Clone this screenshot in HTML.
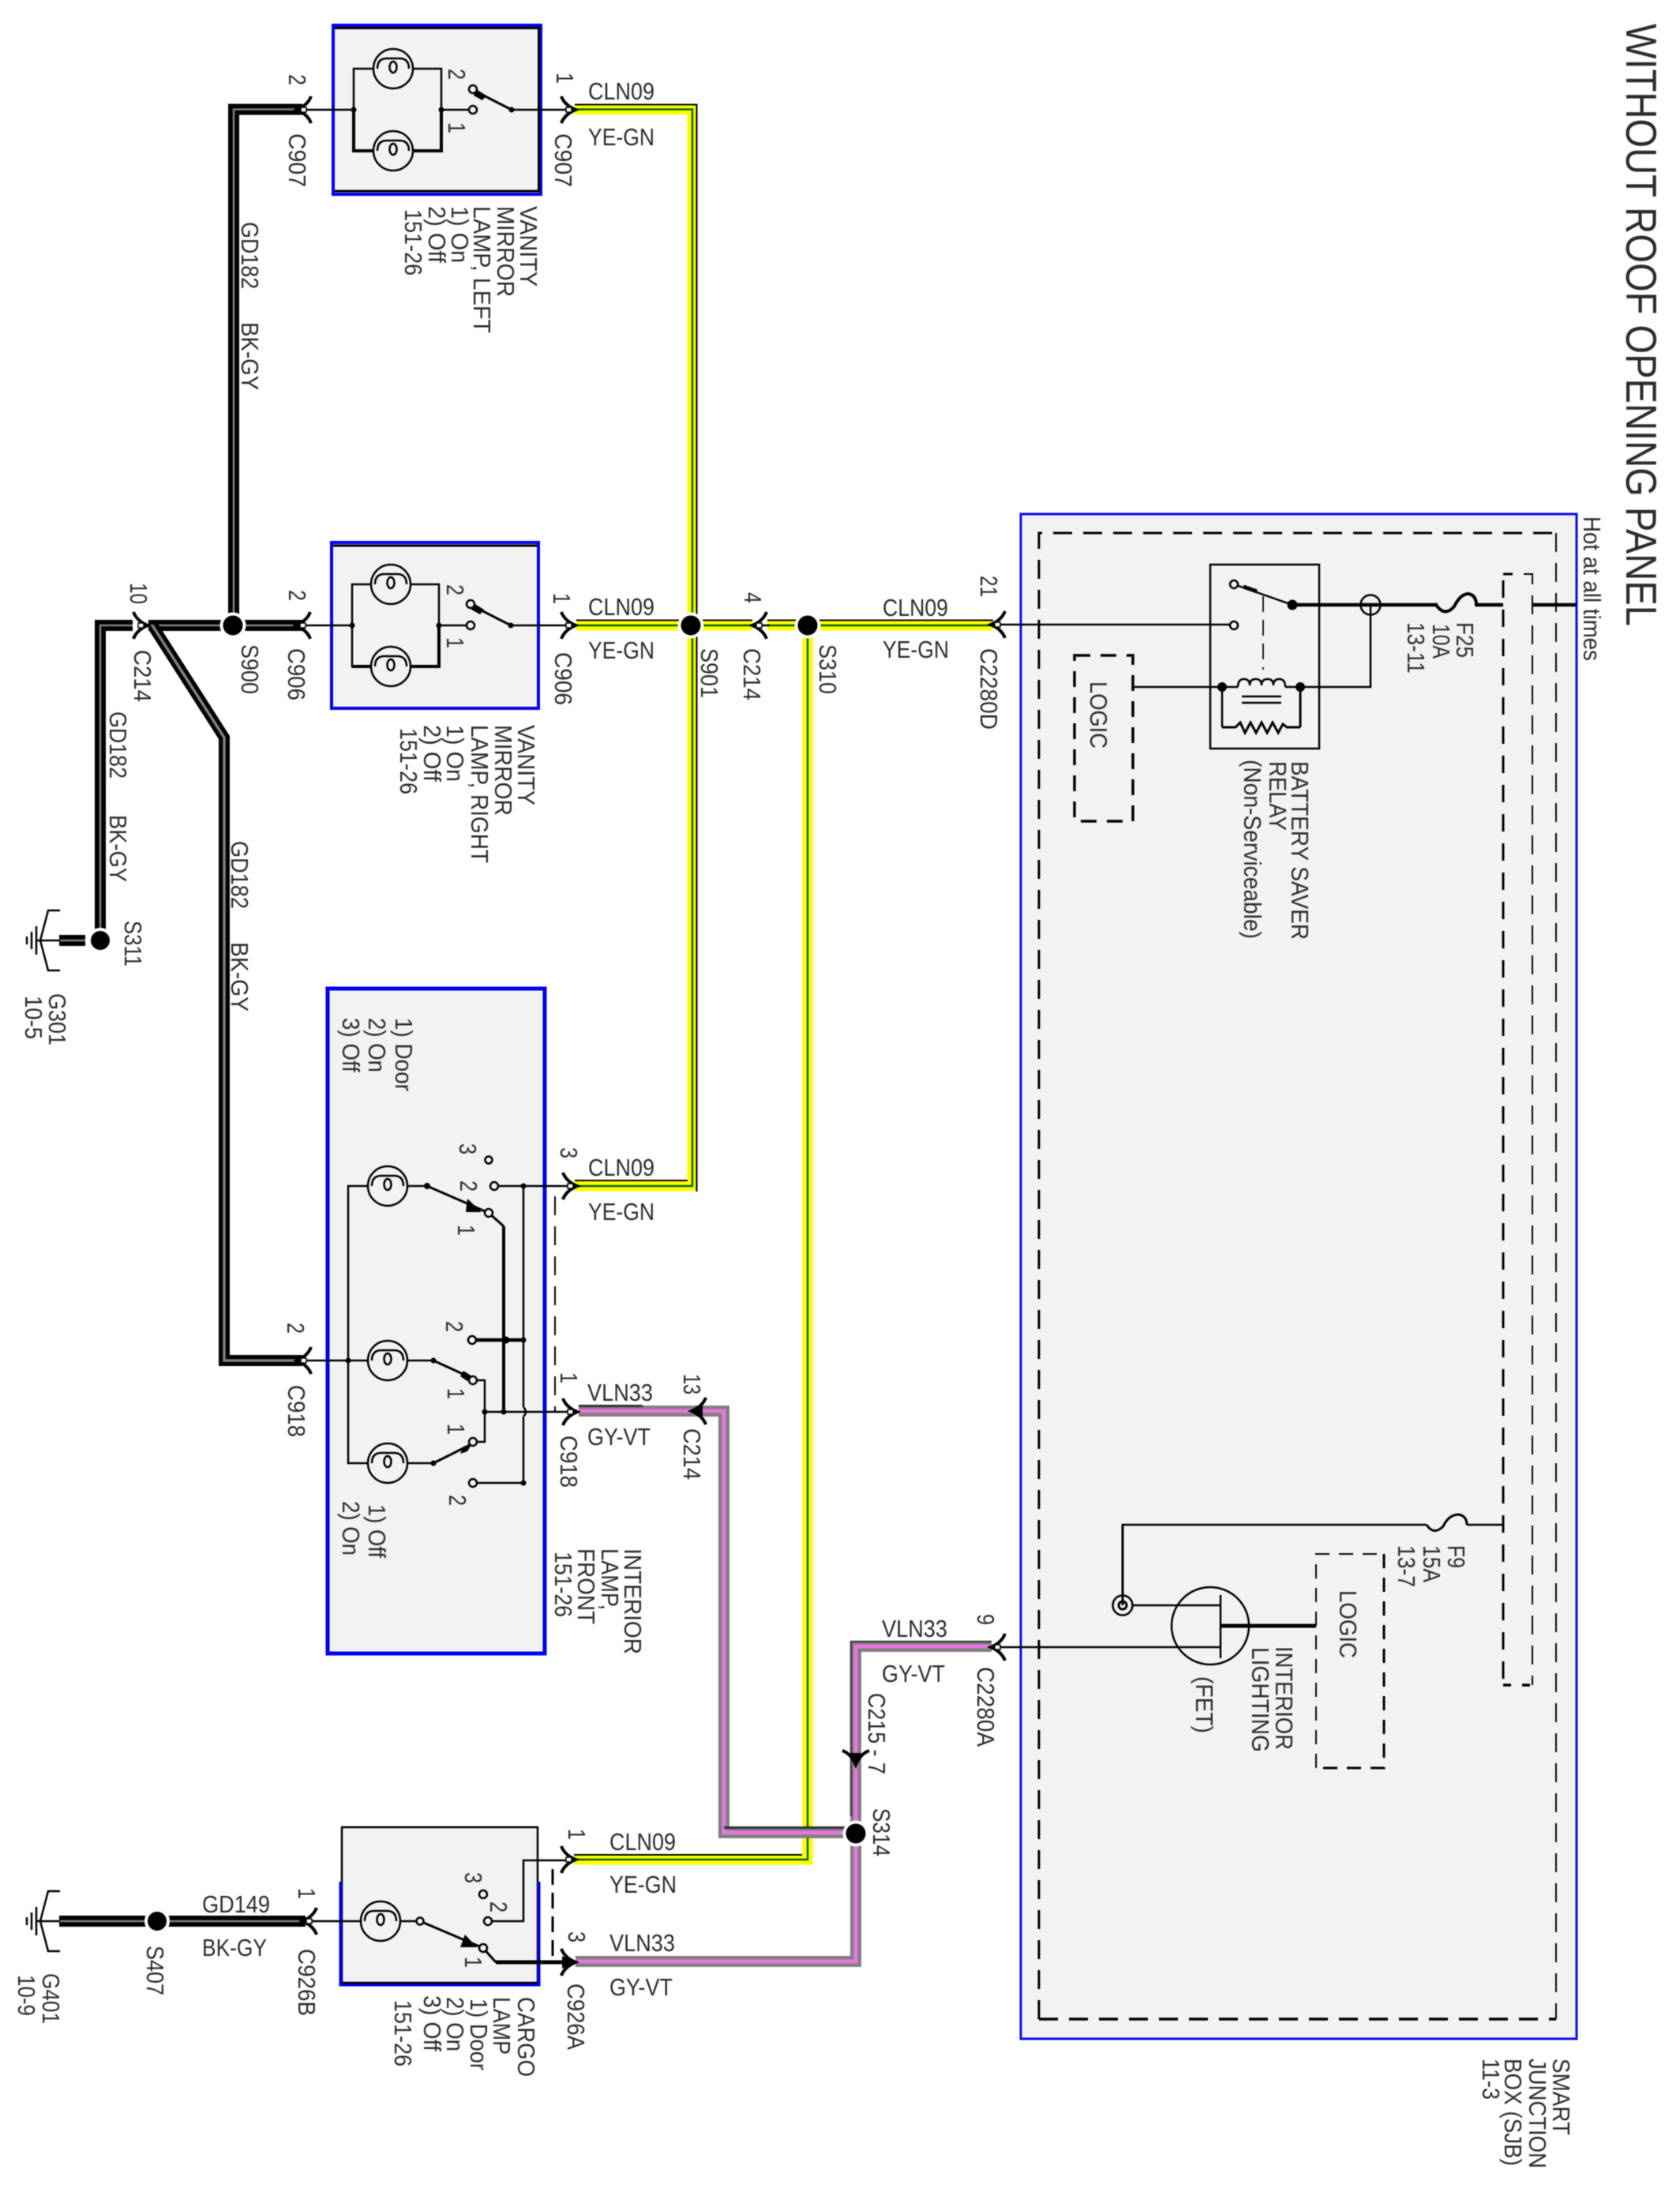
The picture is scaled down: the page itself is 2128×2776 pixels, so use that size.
<!DOCTYPE html>
<html><head><meta charset="utf-8"><title>Wiring diagram</title>
<style>
html,body{margin:0;padding:0;background:#fff;width:2128px;height:2776px;overflow:hidden}
svg{display:block;filter:blur(.6px)}
text{font-family:"Liberation Sans",sans-serif;font-size:31px;fill:#2c2c2c}
.w{fill:none;stroke:#000;stroke-width:2.5}
.m{fill:none;stroke:#000;stroke-width:4}
.n{fill:#f2f2f2;stroke:#000;stroke-width:2.5}
.d{fill:#000;stroke:none}
.y{fill:none;stroke:#ffff00;stroke-width:13}
.g{fill:none;stroke:#006400;stroke-width:2.5}
.k{fill:none;stroke:#000;stroke-width:2}
.gy{fill:none;stroke:#808080;stroke-width:14}
.pk{fill:none;stroke:#e676e0;stroke-width:5}
.bk{fill:none;stroke:#000;stroke-width:14}
.cg{fill:none;stroke:#808080;stroke-width:2.5}
.da{fill:none;stroke:#000;stroke-width:3;stroke-dasharray:24 14}
.dt{fill:none;stroke:#000;stroke-width:2;stroke-dasharray:24 14}
</style></head><body>
<svg xmlns="http://www.w3.org/2000/svg" width="2128" height="2776" viewBox="0 0 2128 2776">
<defs>
<g id="cr"><path d="M-9,-17Q-5,-6 9,0Q-5,6 -9,17" fill="none" stroke="#000" stroke-width="4"/><rect x="-3" y="-3" width="7" height="6" fill="#fff" stroke="#000" stroke-width="1.5"/></g>
<g id="cl"><path d="M9,-17Q5,-6 -9,0Q5,6 9,17" fill="none" stroke="#000" stroke-width="4"/><rect x="-4" y="-3" width="7" height="6" fill="#fff" stroke="#000" stroke-width="1.5"/></g>
<g id="lamp"><circle r="25" fill="#f2f2f2" stroke="#000" stroke-width="2.5"/><path d="M-20,0Q-20,-13 -8,-13L8,-13Q20,-13 20,0" fill="none" stroke="#000" stroke-width="2.5"/><ellipse cx="0" cy="-2" rx="4.5" ry="7" fill="none" stroke="#000" stroke-width="2.5"/></g>
<g id="gnd"><path d="M26,-38H11L1,0L11,38H26" fill="none" stroke="#000" stroke-width="2.5"/><path d="M26,0H-4M-4,-18V18M-10,-11V11M-16,-5V5" fill="none" stroke="#000" stroke-width="2.5"/></g>
</defs>

<!-- component boxes -->
<rect x="422" y="32" width="263" height="214" fill="#f2f2f2" stroke="#0000ee" stroke-width="4"/>
<path d="M424,35.500H682.500V242H424" fill="none" stroke="#000" stroke-width="3"/>
<rect x="420" y="687" width="262" height="210" fill="#f2f2f2" stroke="#0000ee" stroke-width="4"/>
<path d="M422,691H680" fill="none" stroke="#000" stroke-width="3"/>
<rect x="415" y="1252" width="275" height="842" fill="#f2f2f2" stroke="#0000ee" stroke-width="5"/>
<rect x="433" y="2314" width="248" height="198" fill="#f2f2f2" stroke="#000" stroke-width="2.500"/>
<path d="M431.500,2383V2513.500H682.500V2383" fill="none" stroke="#0000ee" stroke-width="4"/>
<path d="M433,2511H680" fill="none" stroke="#000" stroke-width="2.500"/>
<rect x="1293" y="651" width="704" height="1931" fill="#f2f2f2" stroke="#0a0af0" stroke-width="3"/>

<!-- yellow wires -->
<path class="y" d="M728,138.500H877V1502H728"/>
<path class="g" d="M728,138.500H877V1502H728"/>
<path class="k" d="M728,132.500H882.500V1509M728,1495H871"/>
<path class="y" d="M730,792H1258"/><path class="g" d="M730,792H1258"/><path class="k" d="M730,785.500H1258"/>
<path class="y" d="M1023,792V2355H727"/><path class="g" d="M1023,792V2355H727"/><path class="k" d="M727,2349H1016"/>

<!-- gray / violet wires -->
<path class="gy" d="M733,1787H917V2321H1084"/><path class="pk" d="M733,1787H917V2321H1084"/>
<path d="M733,1780.500H814M917,2314.500H1077" fill="none" stroke="#333" stroke-width="3"/>
<path class="gy" d="M1256,2085H1084V2484H729"/><path class="pk" d="M1256,2085H1084V2484H729"/>
<path d="M1256,2079H1078V2300" fill="none" stroke="#444" stroke-width="2.500"/>

<!-- black wires -->
<path class="bk" d="M383,138.500H296V792"/><path class="cg" d="M383,138.500H296V792"/>
<path class="bk" d="M383,792H127V1191"/><path class="cg" d="M383,792H127V1191"/>
<path class="bk" d="M193,792L284,934V1723H383"/><path fill="none" stroke="#808080" stroke-width="3.500" d="M193,792L284,934V1723H383"/>
<path class="bk" d="M75,2433H387"/><path class="cg" d="M75,2433H387"/>
<path class="bk" d="M75,1191H108"/><path class="cg" d="M75,1191H108"/>
<rect x="168" y="783" width="20" height="18" fill="#fff"/>
<rect x="953" y="783" width="19" height="18" fill="#fff"/>

<!-- thin through lines -->
<path class="w" d="M383,139H448M559,139H594M648,139H720"/>
<path class="w" d="M382,792H446M556,792H591M647,792H720"/>
<path class="w" d="M178,792H190M950,792H975"/>

<!-- Vanity left -->
<path class="w" d="M448,139V87H478M518,87H559V139"/>
<path class="m" d="M448,139V191H478M518,191H559V139"/>
<use href="#lamp" x="498" y="87"/><use href="#lamp" x="498" y="191"/>
<circle class="d" cx="448" cy="139" r="3.500"/><circle class="d" cx="559" cy="139" r="3.500"/>
<path class="m" style="stroke-width:3" d="M648,139L601,115"/><path class="d" d="M603,113L616,121L611,127L600,121Z"/>
<circle class="n" cx="599" cy="113" r="5"/><circle class="n" cx="599" cy="139" r="5"/><circle class="d" cx="648" cy="139" r="3.500"/>

<!-- Vanity right -->
<path class="w" d="M446,792V740H470M520,740H556V792"/>
<path class="w" d="M446,792V844H470"/><path class="m" d="M520,844H556V792M446,844H470"/>
<use href="#lamp" x="495" y="740"/><use href="#lamp" x="495" y="844"/>
<circle class="d" cx="446" cy="792" r="3.500"/><circle class="d" cx="556" cy="792" r="3.500"/>
<path class="m" style="stroke-width:3" d="M647,792L598,767"/><path class="d" d="M600,764L613,772L608,778L597,772Z"/>
<circle class="n" cx="596" cy="765" r="5"/><circle class="n" cx="596" cy="792" r="5"/><circle class="d" cx="647" cy="792" r="3.500"/>

<!-- Interior lamp -->
<path class="w" d="M383,1723H466M516,1723H549M466,1502H441V1853H466M516,1502H541M516,1853H549"/>
<use href="#lamp" x="491" y="1502"/><use href="#lamp" x="491" y="1723"/><use href="#lamp" x="491" y="1853"/>
<circle class="d" cx="441" cy="1723" r="3.500"/>
<path class="m" style="stroke-width:3" d="M541,1502L619,1536L638,1553"/>
<path class="d" d="M592,1518L610,1535H590Z"/>
<path class="m" d="M638,1553V1788"/>
<circle class="n" cx="619" cy="1536" r="5"/><circle class="d" cx="541" cy="1502" r="4"/>
<circle class="n" cx="619" cy="1469" r="4.500"/>
<path class="w" d="M631,1502H720M663,1502V1782M663,1794V1878H604"/>
<path class="w" d="M663,1782Q669,1788 663,1794"/>
<circle class="n" cx="626" cy="1502" r="5"/><circle class="d" cx="663" cy="1502" r="3.500"/>
<path class="m" style="stroke-width:3" d="M549,1723L597,1745"/><path class="d" d="M587,1736L598,1743L592,1749L583,1743Z"/>
<path class="w" d="M604,1748H614V1826H604M614,1788H720"/>
<path class="m" style="stroke-width:3" d="M549,1853L597,1829"/><path class="d" d="M587,1832L598,1828L592,1838L583,1841Z"/>
<circle class="n" cx="599" cy="1748" r="5"/><circle class="n" cx="599" cy="1826" r="5"/>
<circle class="d" cx="549" cy="1723" r="3.500"/><circle class="d" cx="549" cy="1853" r="3.500"/>
<path class="m" style="stroke-width:4.500" d="M603,1697H663"/>
<circle class="n" cx="598" cy="1697" r="5"/>
<circle class="n" cx="599" cy="1878" r="5"/>
<circle class="d" cx="641" cy="1697" r="4.500"/><circle class="d" cx="663" cy="1697" r="3.500"/><circle class="d" cx="663" cy="1878" r="3.500"/>
<circle class="d" cx="614" cy="1788" r="3.500"/><circle class="d" cx="638" cy="1788" r="3.500"/>
<path class="dt" d="M703,1515V1788"/>

<!-- Cargo lamp -->
<path class="w" d="M392,2433H462M502,2433H532"/>
<use href="#lamp" x="482" y="2433"/>
<path class="m" style="stroke-width:3" d="M532,2433L612,2467L628,2485"/>
<path class="d" d="M589,2450L604,2466H583Z"/>
<path class="m" style="stroke-width:5" d="M628,2485H720"/>
<circle class="n" cx="532" cy="2433" r="4.500"/><circle class="n" cx="612" cy="2467" r="5"/>
<circle class="n" cx="612" cy="2399" r="5"/>
<path class="w" d="M623,2433H663V2356H720"/><circle class="n" cx="618" cy="2433" r="5"/>
<path fill="none" stroke="#000" stroke-width="3" stroke-dasharray="20 10" d="M700,2367V2485"/>

<!-- SJB interior -->
<path class="da" d="M1316,2557V675H1971"/>
<path class="dt" d="M1971,675V2557"/>
<path class="da" style="stroke-width:3.500" d="M1316,2557H1971"/>
<path fill="none" stroke="#000" stroke-width="3" stroke-dasharray="22 15" d="M1904,735V2134"/>
<path fill="none" stroke="#000" stroke-width="3" d="M1904,727H1916"/>
<path class="dt" d="M1930,727H1941V2134"/>
<path d="M1904,2134H1941" fill="none" stroke="#000" stroke-width="3.500" stroke-dasharray="10 14"/>
<path d="M1637,766H1821M1868,766H1904M1941,766H1996" fill="none" stroke="#000" stroke-width="4.500"/>
<path class="w" d="M1264,791H1559"/>

<!-- relay -->
<rect x="1533" y="715" width="138" height="233" fill="none" stroke="#000" stroke-width="2.500"/>
<path class="w" d="M1637,766L1566,741"/><path class="m" style="stroke-width:5" d="M1575,743L1592,749"/>
<circle class="n" cx="1563" cy="740" r="5"/><circle class="n" cx="1563" cy="792" r="5"/>
<circle class="d" cx="1637" cy="766" r="6.500"/>
<path class="w" style="stroke-width:1.800" stroke-dasharray="20 10" d="M1600,755V848"/>
<path class="w" d="M1435,870H1568M1628,870H1736V766"/>
<path class="w" d="M1568,870Q1568,860 1575.500,860Q1583,860 1583,868Q1583,860 1590.500,860Q1598,860 1598,868Q1598,860 1605.500,860Q1613,860 1613,868Q1613,860 1620.500,860Q1628,860 1628,870"/>
<path class="w" d="M1573,882H1623M1573,890H1623"/>
<path class="w" d="M1548,870V921"/><path class="w" style="stroke-width:3" d="M1647,870V921"/>
<path class="m" style="stroke-width:3" d="M1548,921H1565L1571,915L1577,928L1584,915L1591,928L1598,915L1605,928L1612,915L1619,928L1625,917L1630,921H1647"/>
<circle class="d" cx="1548" cy="870" r="6"/><circle class="d" cx="1647" cy="870" r="6"/>
<circle cx="1736" cy="766" r="12.500" fill="none" stroke="#000" stroke-width="2.500"/>
<path class="m" d="M1819,766Q1830,782 1842,768Q1850,752 1860,752Q1870,754 1870,766"/>
<path class="da" d="M1361,830H1435V1040H1361Z" style="stroke-width:3.500;stroke-dasharray:20 13"/>

<!-- F9 / FET -->
<path class="w" d="M1904,1931H1858M1807,1931H1422V2033"/><path d="M1422,1931V2033" fill="none" stroke="#000" stroke-width="3"/>
<path class="m" style="stroke-width:3" d="M1807,1931Q1816,1945 1828,1933Q1835,1918 1848,1918Q1858,1920 1858,1931"/>
<circle cx="1422" cy="2033" r="12.500" fill="none" stroke="#000" stroke-width="2.500"/><circle cx="1422" cy="2033" r="5" fill="none" stroke="#000" stroke-width="3"/>
<circle cx="1533" cy="2059" r="49" fill="none" stroke="#000" stroke-width="2.500"/>
<path class="w" d="M1546,2020V2100M1435,2033H1546M1264,2086H1546"/>
<path d="M1546,2059H1667" fill="none" stroke="#000" stroke-width="5"/>
<path class="dt" style="stroke-dasharray:18 12" d="M1667,2239V1968H1753"/>
<path class="da" style="stroke-dasharray:18 12" d="M1753,1968V2239H1667"/>

<!-- connectors -->
<use href="#cl" x="385" y="139"/><use href="#cr" x="720" y="139"/>
<use href="#cl" x="384" y="792"/><use href="#cr" x="720" y="792"/>
<use href="#cr" x="178" y="792"/><use href="#cl" x="962" y="792"/>
<use href="#cl" x="1264" y="791"/><use href="#cl" x="1264" y="2086"/>
<use href="#cl" x="385" y="1723"/><use href="#cr" x="722" y="1502"/><use href="#cr" x="722" y="1788"/>
<use href="#cl" x="885" y="1787"/><path class="d" d="M874,1787L890,1776V1798Z"/>
<use href="#cl" x="392" y="2433"/><use href="#cr" x="720" y="2355"/><use href="#cr" x="720" y="2485"/><path class="d" d="M729,2485L712,2477V2493Z"/>
<g transform="translate(1084,2226) rotate(90)"><use href="#cr"/><path class="d" d="M8,0L-6,-7V7Z"/></g>

<!-- splices -->
<g fill="#000" stroke="#fff" stroke-width="4">
<circle cx="295" cy="792" r="14.500"/><circle cx="875" cy="792" r="14.500"/><circle cx="1023" cy="792" r="14.500"/>
<circle cx="1084" cy="2322" r="14.500"/><circle cx="127" cy="1191" r="14"/><circle cx="199" cy="2433" r="14"/>
</g>
<use href="#gnd" x="50" y="1191"/><use href="#gnd" x="50" y="2433"/>

<!-- horizontal labels -->
<text x="745" y="126" textLength="84" lengthAdjust="spacingAndGlyphs">CLN09</text>
<text x="745" y="184" textLength="84" lengthAdjust="spacingAndGlyphs">YE-GN</text>
<text x="745" y="779" textLength="84" lengthAdjust="spacingAndGlyphs">CLN09</text>
<text x="745" y="834" textLength="84" lengthAdjust="spacingAndGlyphs">YE-GN</text>
<text x="1118" y="780" textLength="83" lengthAdjust="spacingAndGlyphs">CLN09</text>
<text x="1118" y="833" textLength="84" lengthAdjust="spacingAndGlyphs">YE-GN</text>
<text x="745" y="1489" textLength="84" lengthAdjust="spacingAndGlyphs">CLN09</text>
<text x="745" y="1545" textLength="84" lengthAdjust="spacingAndGlyphs">YE-GN</text>
<text x="744" y="1774" textLength="83" lengthAdjust="spacingAndGlyphs">VLN33</text>
<text x="744" y="1830" textLength="80" lengthAdjust="spacingAndGlyphs">GY-VT</text>
<text x="1117" y="2073" textLength="83" lengthAdjust="spacingAndGlyphs">VLN33</text>
<text x="1117" y="2130" textLength="80" lengthAdjust="spacingAndGlyphs">GY-VT</text>
<text x="772" y="2343" textLength="84" lengthAdjust="spacingAndGlyphs">CLN09</text>
<text x="772" y="2397" textLength="85" lengthAdjust="spacingAndGlyphs">YE-GN</text>
<text x="772" y="2471" textLength="83" lengthAdjust="spacingAndGlyphs">VLN33</text>
<text x="772" y="2527" textLength="80" lengthAdjust="spacingAndGlyphs">GY-VT</text>
<text x="256" y="2422" textLength="86" lengthAdjust="spacingAndGlyphs">GD149</text>
<text x="256" y="2477" textLength="82" lengthAdjust="spacingAndGlyphs">BK-GY</text>

<!-- rotated labels -->
<g>
<text style="font-size:55px" transform="translate(2060,30) rotate(90)" textLength="763" lengthAdjust="spacingAndGlyphs">WITHOUT ROOF OPENING PANEL</text>
<text transform="translate(2006,654) rotate(90)" textLength="183" lengthAdjust="spacingAndGlyphs">Hot at all times</text>

<text transform="translate(366,94) rotate(90)" textLength="14" lengthAdjust="spacingAndGlyphs">2</text>
<text transform="translate(366,169) rotate(90)" textLength="68" lengthAdjust="spacingAndGlyphs">C907</text>
<text transform="translate(705,92) rotate(90)" textLength="14" lengthAdjust="spacingAndGlyphs">1</text>
<text transform="translate(703,169) rotate(90)" textLength="68" lengthAdjust="spacingAndGlyphs">C907</text>
<text transform="translate(306,281) rotate(90)" textLength="85" lengthAdjust="spacingAndGlyphs">GD182</text>
<text transform="translate(306,408) rotate(90)" textLength="86" lengthAdjust="spacingAndGlyphs">BK-GY</text>
<text transform="translate(659,261) rotate(90)" textLength="102" lengthAdjust="spacingAndGlyphs">VANITY</text>
<text transform="translate(630,261) rotate(90)" textLength="115" lengthAdjust="spacingAndGlyphs">MIRROR</text>
<text transform="translate(600,261) rotate(90)" textLength="161" lengthAdjust="spacingAndGlyphs">LAMP, LEFT</text>
<text transform="translate(572,261) rotate(90)" textLength="72" lengthAdjust="spacingAndGlyphs">1) On</text>
<text transform="translate(543,261) rotate(90)" textLength="72" lengthAdjust="spacingAndGlyphs">2) Off</text>
<text transform="translate(513,265) rotate(90)" textLength="84" lengthAdjust="spacingAndGlyphs">151-26</text>
<text transform="translate(568,87) rotate(90)" textLength="14" lengthAdjust="spacingAndGlyphs">2</text>
<text transform="translate(568,155) rotate(90)" textLength="14" lengthAdjust="spacingAndGlyphs">1</text>

<text transform="translate(366,747) rotate(90)" textLength="14" lengthAdjust="spacingAndGlyphs">2</text>
<text transform="translate(365,821) rotate(90)" textLength="66" lengthAdjust="spacingAndGlyphs">C906</text>
<text transform="translate(701,751) rotate(90)" textLength="14" lengthAdjust="spacingAndGlyphs">1</text>
<text transform="translate(703,826) rotate(90)" textLength="67" lengthAdjust="spacingAndGlyphs">C906</text>
<text transform="translate(566,740) rotate(90)" textLength="14" lengthAdjust="spacingAndGlyphs">2</text>
<text transform="translate(566,807) rotate(90)" textLength="14" lengthAdjust="spacingAndGlyphs">1</text>
<text transform="translate(656,918) rotate(90)" textLength="102" lengthAdjust="spacingAndGlyphs">VANITY</text>
<text transform="translate(627,918) rotate(90)" textLength="115" lengthAdjust="spacingAndGlyphs">MIRROR</text>
<text transform="translate(597,918) rotate(90)" textLength="175" lengthAdjust="spacingAndGlyphs">LAMP, RIGHT</text>
<text transform="translate(566,918) rotate(90)" textLength="72" lengthAdjust="spacingAndGlyphs">1) On</text>
<text transform="translate(537,918) rotate(90)" textLength="72" lengthAdjust="spacingAndGlyphs">2) Off</text>
<text transform="translate(507,922) rotate(90)" textLength="84" lengthAdjust="spacingAndGlyphs">151-26</text>

<text transform="translate(165,738) rotate(90)" textLength="27" lengthAdjust="spacingAndGlyphs">10</text>
<text transform="translate(170,823) rotate(90)" textLength="66" lengthAdjust="spacingAndGlyphs">C214</text>
<text transform="translate(306,816) rotate(90)" textLength="63" lengthAdjust="spacingAndGlyphs">S900</text>
<text transform="translate(888,821) rotate(90)" textLength="63" lengthAdjust="spacingAndGlyphs">S901</text>
<text transform="translate(942,821) rotate(90)" textLength="66" lengthAdjust="spacingAndGlyphs">C214</text>
<text transform="translate(943,750) rotate(90)" textLength="14" lengthAdjust="spacingAndGlyphs">4</text>
<text transform="translate(1038,816) rotate(90)" textLength="63" lengthAdjust="spacingAndGlyphs">S310</text>
<text transform="translate(1242,729) rotate(90)" textLength="27" lengthAdjust="spacingAndGlyphs">21</text>
<text transform="translate(1242,821) rotate(90)" textLength="103" lengthAdjust="spacingAndGlyphs">C2280D</text>

<text transform="translate(139,901) rotate(90)" textLength="85" lengthAdjust="spacingAndGlyphs">GD182</text>
<text transform="translate(139,1032) rotate(90)" textLength="85" lengthAdjust="spacingAndGlyphs">BK-GY</text>
<text transform="translate(293,1065) rotate(90)" textLength="86" lengthAdjust="spacingAndGlyphs">GD182</text>
<text transform="translate(293,1193) rotate(90)" textLength="88" lengthAdjust="spacingAndGlyphs">BK-GY</text>
<text transform="translate(158,1166) rotate(90)" textLength="58" lengthAdjust="spacingAndGlyphs">S311</text>
<text transform="translate(62,1258) rotate(90)" textLength="66" lengthAdjust="spacingAndGlyphs">G301</text>
<text transform="translate(32,1261) rotate(90)" textLength="55" lengthAdjust="spacingAndGlyphs">10-5</text>

<text transform="translate(501,1289) rotate(90)" textLength="93" lengthAdjust="spacingAndGlyphs">1) Door</text>
<text transform="translate(467,1289) rotate(90)" textLength="69" lengthAdjust="spacingAndGlyphs">2) On</text>
<text transform="translate(434,1289) rotate(90)" textLength="69" lengthAdjust="spacingAndGlyphs">3) Off</text>
<text transform="translate(582,1448) rotate(90)" textLength="14" lengthAdjust="spacingAndGlyphs">3</text>
<text transform="translate(710,1453) rotate(90)" textLength="14" lengthAdjust="spacingAndGlyphs">3</text>
<text transform="translate(583,1495) rotate(90)" textLength="14" lengthAdjust="spacingAndGlyphs">2</text>
<text transform="translate(580,1551) rotate(90)" textLength="14" lengthAdjust="spacingAndGlyphs">1</text>
<text transform="translate(565,1673) rotate(90)" textLength="14" lengthAdjust="spacingAndGlyphs">2</text>
<text transform="translate(567,1758) rotate(90)" textLength="14" lengthAdjust="spacingAndGlyphs">1</text>
<text transform="translate(567,1803) rotate(90)" textLength="14" lengthAdjust="spacingAndGlyphs">1</text>
<text transform="translate(569,1893) rotate(90)" textLength="14" lengthAdjust="spacingAndGlyphs">2</text>
<text transform="translate(710,1738) rotate(90)" textLength="14" lengthAdjust="spacingAndGlyphs">1</text>
<text transform="translate(710,1818) rotate(90)" textLength="66" lengthAdjust="spacingAndGlyphs">C918</text>
<text transform="translate(364,1675) rotate(90)" textLength="14" lengthAdjust="spacingAndGlyphs">2</text>
<text transform="translate(365,1754) rotate(90)" textLength="66" lengthAdjust="spacingAndGlyphs">C918</text>
<text transform="translate(467,1905) rotate(90)" textLength="68" lengthAdjust="spacingAndGlyphs">1) Off</text>
<text transform="translate(434,1901) rotate(90)" textLength="69" lengthAdjust="spacingAndGlyphs">2) On</text>
<text transform="translate(866,1740) rotate(90)" textLength="26" lengthAdjust="spacingAndGlyphs">13</text>
<text transform="translate(866,1809) rotate(90)" textLength="65" lengthAdjust="spacingAndGlyphs">C214</text>
<text transform="translate(791,1961) rotate(90)" textLength="134" lengthAdjust="spacingAndGlyphs">INTERIOR</text>
<text transform="translate(762,1961) rotate(90)" textLength="78" lengthAdjust="spacingAndGlyphs">LAMP,</text>
<text transform="translate(732,1961) rotate(90)" textLength="96" lengthAdjust="spacingAndGlyphs">FRONT</text>
<text transform="translate(703,1965) rotate(90)" textLength="83" lengthAdjust="spacingAndGlyphs">151-26</text>

<text transform="translate(1636,964) rotate(90)" textLength="226" lengthAdjust="spacingAndGlyphs">BATTERY SAVER</text>
<text transform="translate(1608,964) rotate(90)" textLength="88" lengthAdjust="spacingAndGlyphs">RELAY</text>
<text transform="translate(1576,962) rotate(90)" textLength="227" lengthAdjust="spacingAndGlyphs">(Non-Serviceable)</text>
<text transform="translate(1381,863) rotate(90)" textLength="85" lengthAdjust="spacingAndGlyphs">LOGIC</text>
<text transform="translate(1845,788) rotate(90)" textLength="45" lengthAdjust="spacingAndGlyphs">F25</text>
<text transform="translate(1815,790) rotate(90)" textLength="44" lengthAdjust="spacingAndGlyphs">10A</text>
<text transform="translate(1783,788) rotate(90)" textLength="65" lengthAdjust="spacingAndGlyphs">13-11</text>

<text transform="translate(1834,1957) rotate(90)" textLength="29" lengthAdjust="spacingAndGlyphs">F9</text>
<text transform="translate(1803,1957) rotate(90)" textLength="47" lengthAdjust="spacingAndGlyphs">15A</text>
<text transform="translate(1771,1957) rotate(90)" textLength="53" lengthAdjust="spacingAndGlyphs">13-7</text>
<text transform="translate(1697,2014) rotate(90)" textLength="86" lengthAdjust="spacingAndGlyphs">LOGIC</text>
<text transform="translate(1616,2085) rotate(90)" textLength="131" lengthAdjust="spacingAndGlyphs">INTERIOR</text>
<text transform="translate(1586,2086) rotate(90)" textLength="133" lengthAdjust="spacingAndGlyphs">LIGHTING</text>
<text transform="translate(1515,2123) rotate(90)" textLength="72" lengthAdjust="spacingAndGlyphs">(FET)</text>
<text transform="translate(1238,2044) rotate(90)" textLength="14" lengthAdjust="spacingAndGlyphs">9</text>
<text transform="translate(1238,2111) rotate(90)" textLength="101" lengthAdjust="spacingAndGlyphs">C2280A</text>
<text transform="translate(1100,2144) rotate(90)" textLength="103" lengthAdjust="spacingAndGlyphs">C215 - 7</text>
<text transform="translate(1106,2290) rotate(90)" textLength="61" lengthAdjust="spacingAndGlyphs">S314</text>
<text transform="translate(1967,2607) rotate(90)" textLength="97" lengthAdjust="spacingAndGlyphs">SMART</text>
<text transform="translate(1937,2607) rotate(90)" textLength="139" lengthAdjust="spacingAndGlyphs">JUNCTION</text>
<text transform="translate(1906,2607) rotate(90)" textLength="136" lengthAdjust="spacingAndGlyphs">BOX (SJB)</text>
<text transform="translate(1878,2607) rotate(90)" textLength="52" lengthAdjust="spacingAndGlyphs">11-3</text>

<text transform="translate(720,2316) rotate(90)" textLength="14" lengthAdjust="spacingAndGlyphs">1</text>
<text transform="translate(720,2446) rotate(90)" textLength="14" lengthAdjust="spacingAndGlyphs">3</text>
<text transform="translate(719,2512) rotate(90)" textLength="84" lengthAdjust="spacingAndGlyphs">C926A</text>
<text transform="translate(378,2391) rotate(90)" textLength="14" lengthAdjust="spacingAndGlyphs">1</text>
<text transform="translate(378,2468) rotate(90)" textLength="85" lengthAdjust="spacingAndGlyphs">C926B</text>
<text transform="translate(589,2371) rotate(90)" textLength="14" lengthAdjust="spacingAndGlyphs">3</text>
<text transform="translate(621,2408) rotate(90)" textLength="14" lengthAdjust="spacingAndGlyphs">2</text>
<text transform="translate(589,2478) rotate(90)" textLength="14" lengthAdjust="spacingAndGlyphs">1</text>
<text transform="translate(186,2464) rotate(90)" textLength="63" lengthAdjust="spacingAndGlyphs">S407</text>
<text transform="translate(54,2499) rotate(90)" textLength="64" lengthAdjust="spacingAndGlyphs">G401</text>
<text transform="translate(23,2501) rotate(90)" textLength="52" lengthAdjust="spacingAndGlyphs">10-9</text>
<text transform="translate(656,2529) rotate(90)" textLength="101" lengthAdjust="spacingAndGlyphs">CARGO</text>
<text transform="translate(625,2529) rotate(90)" textLength="73" lengthAdjust="spacingAndGlyphs">LAMP</text>
<text transform="translate(596,2531) rotate(90)" textLength="91" lengthAdjust="spacingAndGlyphs">1) Door</text>
<text transform="translate(566,2529) rotate(90)" textLength="69" lengthAdjust="spacingAndGlyphs">2) On</text>
<text transform="translate(537,2527) rotate(90)" textLength="71" lengthAdjust="spacingAndGlyphs">3) Off</text>
<text transform="translate(500,2533) rotate(90)" textLength="84" lengthAdjust="spacingAndGlyphs">151-26</text>
</g>
</svg>
</body></html>
